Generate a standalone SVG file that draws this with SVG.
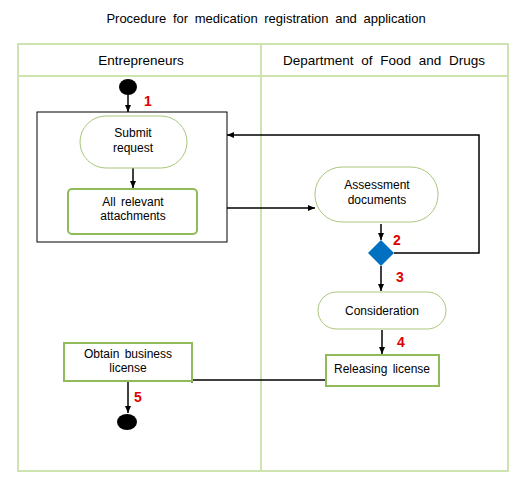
<svg xmlns="http://www.w3.org/2000/svg" width="522" height="485" viewBox="0 0 522 485">
<style>
text{font-family:"Liberation Sans",Arial,sans-serif;fill:#000}
.t{font-size:12px;text-anchor:middle;word-spacing:2px}
.h{font-size:13.5px;text-anchor:middle;word-spacing:4px}
.ti{font-size:13px;text-anchor:middle;word-spacing:3px}
.n{font-size:14px;font-weight:bold;fill:#e00000}
.lane{fill:none;stroke:#cde4b0;stroke-width:2}
.st{fill:#fff;stroke:#a9c77c;stroke-width:1}
.rb{fill:#fff;stroke:#8fbc58;stroke-width:2}
.c{fill:none;stroke:#000;stroke-width:1.5}
</style>
<defs>
<marker id="a" markerWidth="8" markerHeight="8" refX="7" refY="4" orient="auto" markerUnits="userSpaceOnUse">
<path d="M0,1 L7,4 L0,7 z" fill="#000"/>
</marker>
<marker id="tk" markerWidth="4" markerHeight="8" refX="1" refY="4" orient="auto" markerUnits="userSpaceOnUse">
<path d="M1,1 L1,7" stroke="#000" stroke-width="1"/>
</marker>
</defs>
<rect width="522" height="485" fill="#fff"/>
<text x="266" y="23" class="ti">Procedure for medication registration and application</text>
<g id="lanes">
<rect x="18" y="44" width="490" height="427" class="lane"/>
<line x1="18" y1="76" x2="508" y2="76" class="lane"/>
<line x1="261" y1="44" x2="261" y2="471" class="lane"/>
<text x="141" y="65" class="h">Entrepreneurs</text>
<text x="384" y="65" class="h">Department of Food and Drugs</text>
</g>
<g id="group-box"><rect x="37" y="112" width="190" height="130" fill="none" stroke="#000" stroke-width="1"/></g>
<g id="connectors">
<line x1="128" y1="95" x2="128" y2="112" class="c" marker-end="url(#a)"/>
<line x1="133" y1="168" x2="133" y2="188" class="c" marker-end="url(#a)"/>
<line x1="227" y1="208" x2="315" y2="208" class="c" marker-end="url(#a)"/>
<line x1="381" y1="224" x2="381" y2="240" class="c" marker-end="url(#a)"/>
<polyline points="394,253 479,253 479,135 227,135" class="c" stroke-width="2" marker-end="url(#a)"/>
<line x1="381" y1="266" x2="381" y2="291" class="c" marker-end="url(#a)"/>
<line x1="382" y1="330" x2="382" y2="354" class="c" marker-end="url(#a)"/>
<line x1="326" y1="380" x2="192" y2="380" class="c" marker-end="url(#tk)"/>
<line x1="128" y1="382" x2="128" y2="413" class="c" marker-end="url(#a)"/>
</g>
<g id="start"><ellipse cx="128" cy="87" rx="9" ry="8" fill="#000"/></g>
<text x="144" y="106" class="n">1</text>
<g id="submit">
<rect x="80" y="116" width="107" height="52" rx="26" class="st"/>
<text x="133" y="137" class="t">Submit</text>
<text x="133" y="152" class="t">request</text>
</g>
<g id="attachments">
<rect x="68" y="189" width="129" height="45" rx="4" class="rb"/>
<text x="133" y="206" class="t">All relevant</text>
<text x="133" y="220" class="t">attachments</text>
</g>
<g id="assessment">
<rect x="315" y="167" width="123" height="55" rx="27" class="st"/>
<text x="377" y="189" class="t">Assessment</text>
<text x="377" y="204" class="t">documents</text>
</g>
<g id="decision"><polygon points="381,240 394,253 381,266 368,253" fill="#0070c0"/></g>
<text x="393" y="245" class="n">2</text>
<text x="396" y="282" class="n">3</text>
<g id="consideration">
<rect x="318" y="292" width="128" height="37" rx="18.5" class="st"/>
<text x="382" y="315" class="t">Consideration</text>
</g>
<text x="397" y="347" class="n">4</text>
<g id="releasing">
<rect x="326" y="355" width="113" height="31" class="rb"/>
<text x="382" y="373" class="t">Releasing license</text>
</g>
<g id="obtain">
<rect x="64" y="343" width="128" height="38" class="rb"/>
<text x="128" y="358" class="t">Obtain business</text>
<text x="128" y="372" class="t">license</text>
</g>
<text x="134" y="402" class="n">5</text>
<g id="end"><ellipse cx="127" cy="422" rx="10" ry="8" fill="#000"/></g>
</svg>
